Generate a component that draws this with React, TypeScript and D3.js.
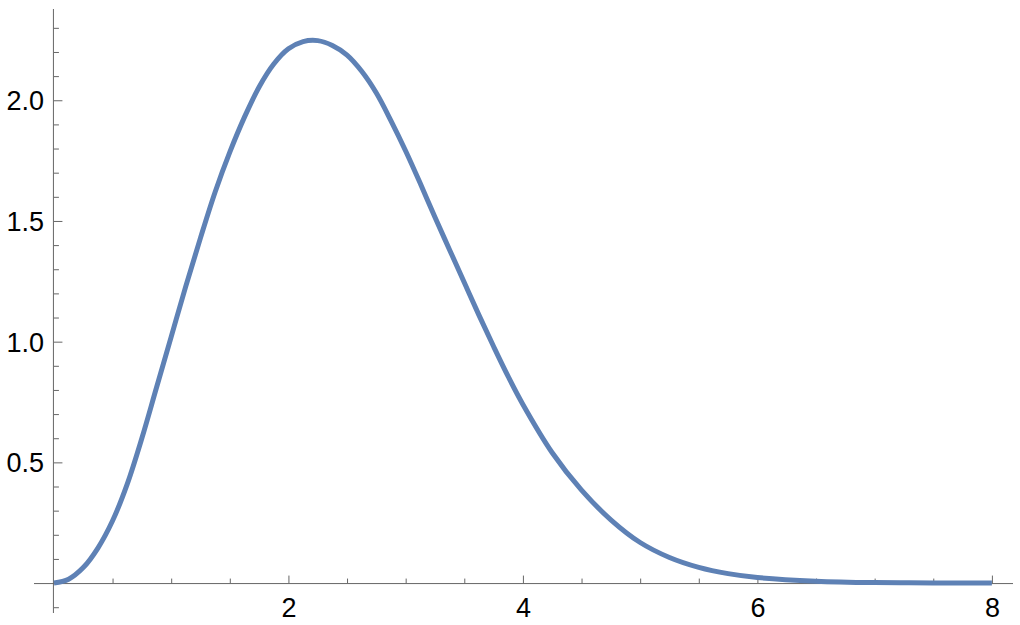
import React, { useEffect, useRef } from 'react';
import * as d3 from 'd3';

// values
const xs = [0, 0.125, 0.25, 0.375, 0.5, 0.625, 0.75, 0.875, 1.0, 1.125, 1.25, 1.375, 1.5, 1.625, 1.75, 1.875, 2.0, 2.125, 2.25, 2.375, 2.5, 2.625, 2.75, 2.875, 3.0, 3.125, 3.25, 3.375, 3.5, 3.625, 3.75, 3.875, 4.0, 4.25, 4.5, 4.75, 5.0, 5.25, 5.5, 5.75, 6.0, 6.5, 7.0, 7.5, 8.0];
const ys = [0, 0.016, 0.064, 0.145, 0.258, 0.41, 0.6, 0.81, 1.02, 1.23, 1.43, 1.62, 1.785, 1.93, 2.055, 2.15, 2.213, 2.243, 2.247, 2.227, 2.187, 2.12, 2.03, 1.915, 1.79, 1.655, 1.515, 1.38, 1.245, 1.11, 0.98, 0.855, 0.74, 0.54, 0.385, 0.262, 0.168, 0.106, 0.065, 0.039, 0.023, 0.008, 0.002, 0.0005, 0];

const xMajor = [2, 4, 6, 8];
const xMinor = [0.5, 1, 1.5, 2.5, 3, 3.5, 4.5, 5, 5.5, 6.5, 7, 7.5];
const yMajor = [0.5, 1.0, 1.5, 2.0];
const yMinor = [-0.1, 0.1, 0.2, 0.3, 0.4, 0.6, 0.7, 0.8, 0.9, 1.1, 1.2, 1.3, 1.4, 1.6, 1.7, 1.8, 1.9, 2.1, 2.2, 2.3];

const App = () => {
    const svgRef = useRef<SVGSVGElement>(null);

    useEffect(() => {
        const width = 1020;
        const height = 625;

        const x = d3.scaleLinear().domain([-0.17, 8.18]).range([34, 1013]);
        const y = d3.scaleLinear().domain([-0.124, 2.378]).range([613, 9]);

        const svg = d3.select(svgRef.current);
        svg.selectAll('*').remove();
        svg.attr('width', width).attr('height', height);

        const axisColor = '#666666';
        const font = '"Liberation Sans", Arial, sans-serif';

        // x axis (through y = 0), ticks point up
        const gx = svg.append('g').attr('transform', `translate(0,${y(0)})`);
        gx.call(d3.axisBottom(x).tickValues(xMinor).tickSize(-4.5).tickSizeOuter(0).tickFormat(() => ''));
        gx.append('g').call(d3.axisBottom(x).tickValues(xMajor).tickSize(-7.5).tickSizeOuter(0).tickFormat(d3.format('d')))
            .call(g => g.select('.domain').remove());
        gx.selectAll('.domain').attr('stroke', axisColor).attr('d', `M${x.range()[0]},0.5H${x.range()[1]}`);
        gx.selectAll('line').attr('stroke', axisColor);
        gx.selectAll('text')
            .attr('fill', '#000')
            .attr('y', 34)
            .attr('dy', 0)
            .style('font-family', font)
            .style('font-size', '27px');

        // y axis (through x = 0), ticks point right
        const gy = svg.append('g').attr('transform', `translate(${x(0)},0)`);
        gy.call(d3.axisLeft(y).tickValues(yMinor).tickSize(-5).tickSizeOuter(0).tickFormat(() => ''));
        gy.append('g').call(d3.axisLeft(y).tickValues(yMajor).tickSize(-8.5).tickSizeOuter(0).tickFormat(d3.format('.1f')))
            .call(g => g.select('.domain').remove());
        gy.selectAll('.domain').attr('stroke', axisColor).attr('d', `M-0.5,${y.range()[1]}V${y.range()[0]}`);
        gy.selectAll('line').attr('stroke', axisColor);
        gy.selectAll('text')
            .attr('fill', '#000')
            .attr('x', -10)
            .attr('dy', '0.35em')
            .style('font-family', font)
            .style('font-size', '27px');

        const line = d3.line<number>()
            .x((_, i) => x(xs[i]))
            .y(d => y(d))
            .curve(d3.curveCatmullRom.alpha(0.5));

        svg.append('path')
            .datum(ys)
            .attr('fill', 'none')
            .attr('stroke', '#5E81B5')
            .attr('stroke-width', 5)
            .attr('stroke-linejoin', 'round')
            .attr('d', line);
    }, []);

    return (
        <svg ref={svgRef} style={{ position: 'absolute', left: 0, top: 0, background: '#fff' }}></svg>
    );
};

export default App;
